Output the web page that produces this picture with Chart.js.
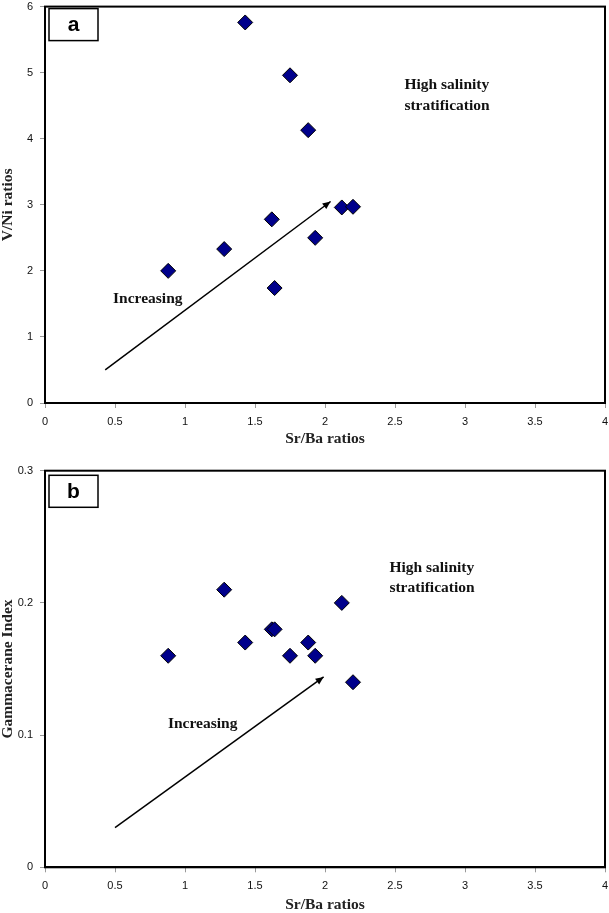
<!DOCTYPE html>
<html>
<head>
<meta charset="utf-8">
<script src="https://cdn.jsdelivr.net/npm/chart.js@4.4.6/dist/chart.umd.min.js"></script>
<style>
  html, body { margin: 0; padding: 0; background: #fff; overflow: hidden; }
  .panel { position: absolute; left: 0; width: 609px; }
  #wrapA { top: 0; height: 450px; }
  #wrapB { top: 450px; height: 463px; }
</style>
</head>
<body>
<div class="panel" id="wrapA"><canvas id="chartA" width="609" height="450"></canvas></div>
<div class="panel" id="wrapB"><canvas id="chartB" width="609" height="463"></canvas></div>
<script>
// Datos (10 muestras, mismo Sr/Ba en ambos paneles)
const srBa        = [0.88, 1.28, 1.43, 1.62, 1.64, 1.75, 1.88, 1.93, 2.12, 2.20];
const vNi         = [2.00, 2.33, 5.76, 2.78, 1.74, 4.96, 4.13, 2.50, 2.96, 2.97];
const gammacerane = [0.16, 0.21, 0.17, 0.18, 0.18, 0.16, 0.17, 0.16, 0.20, 0.14];

const xTickLabels  = ['0', '0.5', '1', '1.5', '2', '2.5', '3', '3.5', '4'];
const yTickLabelsA = ['0', '1', '2', '3', '4', '5', '6'];
const yTickLabelsB = ['0', '0.1', '0.2', '0.3'];

// flechas "Increasing" (inicio, fin) en unidades de datos
const arrowA = [[0.43, 0.50], [2.04, 3.05]];
const arrowB = [[0.50, 0.030], [1.99, 0.144]];

const SANS  = '"Liberation Sans", Arial, sans-serif';
const SERIF = '"Liberation Serif", "Times New Roman", serif';

// Marco, anotaciones de texto, punta de flecha y etiqueta del panel.
const notasPlugin = {
  id: 'notas',
  beforeDatasetsDraw(chart) {
    const { ctx, chartArea: a } = chart;
    ctx.save();
    ctx.strokeStyle = '#000';
    ctx.lineWidth = 2;
    ctx.strokeRect(a.left, a.top, a.right - a.left, a.bottom - a.top);
    ctx.restore();
  },
  afterDatasetsDraw(chart, args, opts) {
    const { ctx, chartArea: a, scales: { x, y } } = chart;
    ctx.save();

    // textos
    ctx.font = `bold 15.5px ${SERIF}`;
    ctx.fillStyle = '#111';
    ctx.textAlign = 'left';
    ctx.textBaseline = 'middle';
    opts.textos.forEach(t => ctx.fillText(t.texto, x.getPixelForValue(t.x), y.getPixelForValue(t.y)));

    // punta de flecha
    const [p0, p1] = opts.flecha;
    const x0 = x.getPixelForValue(p0[0]), y0 = y.getPixelForValue(p0[1]);
    const x1 = x.getPixelForValue(p1[0]), y1 = y.getPixelForValue(p1[1]);
    const ang = Math.atan2(y1 - y0, x1 - x0);
    const largo = 8, ancho = 3.5;
    ctx.translate(x1, y1);
    ctx.rotate(ang);
    ctx.beginPath();
    ctx.moveTo(0, 0);
    ctx.lineTo(-largo, -ancho);
    ctx.lineTo(-largo, ancho);
    ctx.closePath();
    ctx.fillStyle = '#000';
    ctx.fill();
    ctx.setTransform(1, 0, 0, 1, 0, 0);

    // caja con la letra del panel
    const c = opts.caja;
    const bx = a.left + c.dx, by = a.top + c.dy;
    ctx.fillStyle = '#fff';
    ctx.fillRect(bx, by, c.w, c.h);
    ctx.strokeStyle = '#000';
    ctx.lineWidth = 1.5;
    ctx.strokeRect(bx, by, c.w, c.h);
    ctx.font = `bold 21px ${SANS}`;
    ctx.fillStyle = '#000';
    ctx.textAlign = 'center';
    ctx.textBaseline = 'middle';
    ctx.fillText(c.letra, bx + c.w / 2, by + c.h / 2 + 1);
    ctx.restore();
  }
};

const ejeX = (altoEje, padTituloX) => ({
  type: 'linear',
  min: 0,
  max: 4,
  afterBuildTicks: s => { s.ticks = xTickLabels.map(t => ({ value: +t })); },
  afterFit: s => { s.height = altoEje; s.paddingLeft = 0; s.paddingRight = 0; },
  grid: { drawOnChartArea: false, drawTicks: true, tickLength: 5, color: '#999', lineWidth: 1 },
  border: { display: true, color: '#000', width: 2 },
  ticks: {
    padding: 7, autoSkip: false, maxRotation: 0, color: '#111',
    font: { family: SANS, size: 11 },
    callback: (v, i) => xTickLabels[i],
  },
  title: {
    display: true, text: 'Sr/Ba ratios', color: '#222',
    font: { family: SERIF, size: 15.5, weight: 'bold', lineHeight: 1 },
    padding: { top: 0, bottom: padTituloX },
  },
});

const ejeY = (etiquetas, titulo) => ({
  type: 'linear',
  min: +etiquetas[0],
  max: +etiquetas[etiquetas.length - 1],
  afterBuildTicks: s => { s.ticks = etiquetas.map(t => ({ value: +t })); },
  afterFit: s => { s.width = 45; s.paddingTop = 0; s.paddingBottom = 0; },
  grid: { drawOnChartArea: false, drawTicks: true, tickLength: 5, color: '#999', lineWidth: 1 },
  border: { display: true, color: '#000', width: 2 },
  ticks: {
    padding: 7, autoSkip: false, color: '#111',
    font: { family: SANS, size: 11 },
    callback: (v, i) => etiquetas[i],
  },
  title: {
    display: true, text: titulo, color: '#222',
    font: { family: SERIF, size: 15.5, weight: 'bold', lineHeight: 1 },
    padding: { top: 0, bottom: 0 },
  },
});

const crearPanel = ({ id, valoresY, etiquetasY, tituloY, flecha, textos, caja, padTop, altoEjeX, padTituloX }) => {
  new Chart(document.getElementById(id), {
    type: 'scatter',
    data: {
      datasets: [
        {
          type: 'line',
          data: flecha.map(([x, y]) => ({ x, y })),
          borderColor: '#000',
          borderWidth: 1.5,
          pointRadius: 0,
          fill: false,
        },
        {
          data: srBa.map((x, i) => ({ x, y: valoresY[i] })),
          pointStyle: 'rectRot',
          pointRadius: 7.5,
          backgroundColor: '#00008b',
          borderColor: '#000',
          borderWidth: 1,
        },
      ],
    },
    options: {
      responsive: false,
      animation: false,
      events: [],
      layout: { autoPadding: false, padding: { left: 0, right: 4, top: padTop, bottom: 0 } },
      plugins: {
        legend: { display: false },
        tooltip: { enabled: false },
        notas: { flecha, textos, caja },
      },
      scales: {
        x: ejeX(altoEjeX, padTituloX),
        y: ejeY(etiquetasY, tituloY),
      },
    },
    plugins: [notasPlugin],
  });
};

crearPanel({
  id: 'chartA',
  valoresY: vNi,
  etiquetasY: yTickLabelsA,
  tituloY: 'V/Ni ratios',
  flecha: arrowA,
  textos: [
    { texto: 'High salinity', x: 2.567, y: 4.82 },
    { texto: 'stratification', x: 2.567, y: 4.50 },
    { texto: 'Increasing', x: 0.486, y: 1.57 },
  ],
  caja: { letra: 'a', dx: 4, dy: 2, w: 49, h: 32 },
  padTop: 6.6,
  altoEjeX: 47,
  padTituloX: 3,
});

crearPanel({
  id: 'chartB',
  valoresY: gammacerane,
  etiquetasY: yTickLabelsB,
  tituloY: 'Gammacerane Index',
  flecha: arrowB,
  textos: [
    { texto: 'High salinity', x: 2.46, y: 0.2267 },
    { texto: 'stratification', x: 2.46, y: 0.2113 },
    { texto: 'Increasing', x: 0.878, y: 0.1084 },
  ],
  caja: { letra: 'b', dx: 4, dy: 4.6, w: 49, h: 32 },
  padTop: 20.7,
  altoEjeX: 45.7,
  padTituloX: 0,
});
</script>
</body>
</html>
